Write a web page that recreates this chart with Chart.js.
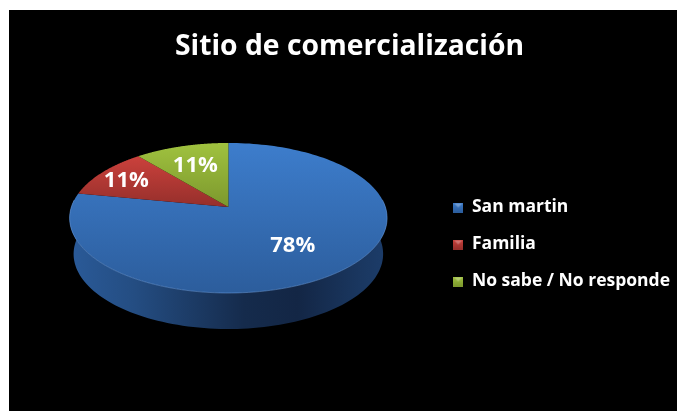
<!DOCTYPE html>
<html><head><meta charset="utf-8">
<style>html,body{margin:0;padding:0;background:#fff;overflow:hidden}
#w{position:absolute;left:9px;top:10px;width:668px;height:401px;background:#000}
canvas{display:block}</style>
<script src="https://cdn.jsdelivr.net/npm/chart.js@4"></script></head>
<body><div id="w"><canvas id="c" width="668" height="401"></canvas></div>
<script>
const categories = ['San martin', 'Familia', 'No sabe / No responde'];
const values = [78, 11, 11];
const titleText = 'Sitio de comercialización';
const faceTop = ['#3d7dcc', '#cb413c', '#a0c23f'];
const faceBottom = ['#2c5d9c', '#952f2b', '#7c982d'];
const labelRadius = [0.6, 0.8, 0.68];
const FONT = '"Open Sans"';

// 3-D view: the flat circle the library computes is projected onto a tilted disc
const tilt = {c: 0.1467, sx: 157 / 168.5, sy: 73.4 / 168.5, dy: -35.5, depth: 36, shrink: 0.975};
function project(arc, theta, f) {
  const R = arc.outerRadius * f, s = Math.sin(theta), c = Math.cos(theta);
  const w = 1 + tilt.c * c * f;
  return {x: arc.x + R * s * tilt.sx / w, y: arc.y + tilt.dy - R * c * tilt.sy / w};
}
function bottomPoint(arc, theta) {
  const p = project(arc, theta, 1);
  return {x: arc.x + (p.x - arc.x) * tilt.shrink, y: p.y + tilt.depth};
}
Chart.ArcElement.prototype.draw = function (ctx) {
  const i = this.$context ? this.$context.dataIndex : 0;
  const a0 = this.startAngle + Math.PI / 2, a1 = this.endAngle + Math.PI / 2;
  const steps = 160, pts = [];
  for (let k = 0; k <= steps; k++) pts.push(a0 + (a1 - a0) * k / steps);
  const wall = pts.filter(t => Math.cos(t) < 0.12);
  ctx.save();
  if (wall.length > 1) {
    const p0 = project(this, Math.PI * 1.5, 1), p1 = project(this, Math.PI * 0.5, 1);
    const g = ctx.createLinearGradient(p0.x, 0, p1.x, 0);
    g.addColorStop(0, '#2a5a98'); g.addColorStop(0.2, '#244d82');
    g.addColorStop(0.55, '#152b4c'); g.addColorStop(0.72, '#132645');
    g.addColorStop(0.92, '#1a3760'); g.addColorStop(1, '#1c3c69');
    ctx.beginPath();
    wall.forEach((t, k) => { const p = project(this, t, 1); k ? ctx.lineTo(p.x, p.y) : ctx.moveTo(p.x, p.y); });
    wall.slice().reverse().forEach(t => { const p = bottomPoint(this, t); ctx.lineTo(p.x, p.y); });
    ctx.closePath(); ctx.fillStyle = g; ctx.fill();
  }
  let top = 1e9, bot = -1e9;
  const apex = project(this, 0, 0);
  ctx.beginPath(); ctx.moveTo(apex.x, apex.y);
  pts.forEach(t => { const p = project(this, t, 1); ctx.lineTo(p.x, p.y); top = Math.min(top, p.y); bot = Math.max(bot, p.y); });
  ctx.closePath();
  top = Math.min(top, apex.y); bot = Math.max(bot, apex.y);
  const g2 = ctx.createLinearGradient(0, top, 0, bot);
  g2.addColorStop(0, faceTop[i]); g2.addColorStop(1, faceBottom[i]);
  ctx.fillStyle = g2; ctx.fill();
  if (wall.length > 1) {
    ctx.beginPath();
    wall.forEach((t, k) => { const p = project(this, t, 1); k ? ctx.lineTo(p.x, p.y) : ctx.moveTo(p.x, p.y); });
    ctx.strokeStyle = 'rgba(110,160,225,0.5)'; ctx.lineWidth = 1; ctx.stroke();
  }
  ctx.restore();
};
function swatch(i) {
  const s = document.createElement('canvas'); s.width = s.height = 10;
  const x = s.getContext('2d');
  const g = x.createLinearGradient(0, 0, 0, 10);
  g.addColorStop(0, faceTop[i]); g.addColorStop(1, faceBottom[i]);
  x.fillStyle = g; x.fillRect(0, 0, 10, 10);
  x.fillStyle = 'rgba(255,255,255,0.28)';
  x.beginPath(); x.moveTo(1, 1); x.lineTo(9, 1); x.lineTo(5, 5); x.closePath(); x.fill();
  return s;
}
const placeBoxes = {
  id: 'placeBoxes',
  afterLayout(chart) {
    const l = chart.legend, t = chart.titleBlock, dx = 3, dy = 34;
    l.top += dy; l.bottom += dy; l.left += dx; l.right += dx;
    t.left -= 2; t.right -= 2;
  }
};
const sliceLabels = {
  id: 'sliceLabels',
  afterDatasetsDraw(chart) {
    const ctx = chart.ctx, total = values.reduce((a, b) => a + b, 0);
    chart.getDatasetMeta(0).data.forEach((arc, i) => {
      const p = project(arc, (arc.startAngle + arc.endAngle) / 2 + Math.PI / 2, labelRadius[i]);
      ctx.save();
      ctx.font = 'bold 22px ' + FONT; ctx.fillStyle = '#fff';
      ctx.textAlign = 'center'; ctx.textBaseline = 'middle';
      ctx.fillText(Math.round(values[i] / total * 100) + '%', p.x, p.y + 2);
      ctx.restore();
    });
  }
};
new Chart(document.getElementById('c'), {
  type: 'pie',
  data: {labels: categories, datasets: [{data: values, backgroundColor: faceTop, borderWidth: 0}]},
  plugins: [placeBoxes, sliceLabels],
  options: {
    responsive: false, animation: false,
    layout: {padding: {left: 17, right: 0, top: 0, bottom: 0}},
    plugins: {
      tooltip: {enabled: false},
      title: {display: true, text: titleText, color: '#fff', font: {family: FONT, weight: 'bold', size: 28.3}, padding: {top: 20, bottom: 10}},
      legend: {
        position: 'right', align: 'center',
        labels: {
          color: '#fff', font: {family: FONT, weight: 'bold', size: 17.5},
          usePointStyle: true, boxHeight: 10, boxWidth: 10, padding: 19.5,
          generateLabels: () => categories.map((t, i) => ({text: t, fontColor: '#fff', pointStyle: swatch(i), fillStyle: faceTop[i], strokeStyle: 'transparent', lineWidth: 0, index: i}))
        }
      }
    }
  }
});
</script></body></html>
